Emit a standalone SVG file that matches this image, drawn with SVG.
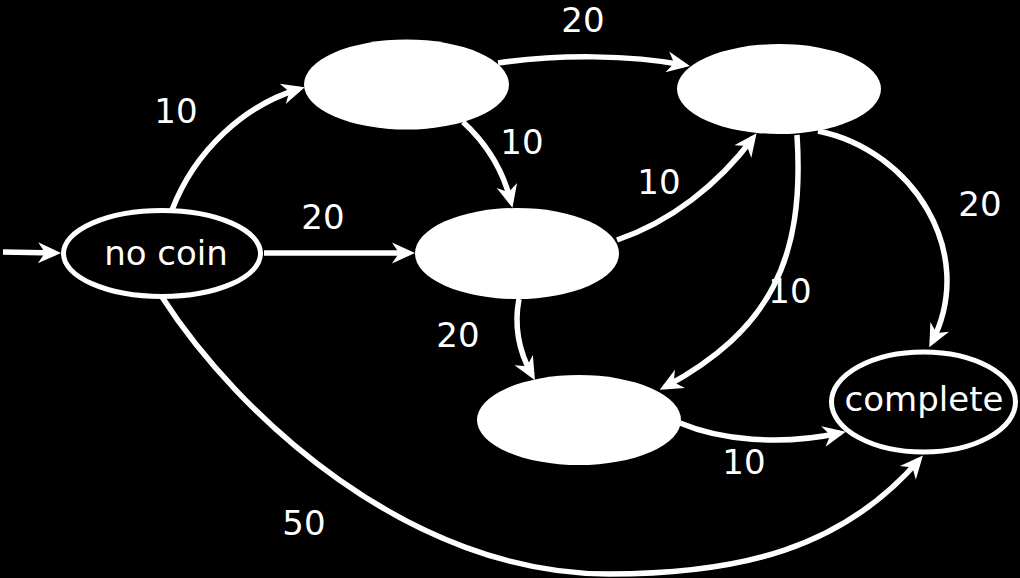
<svg xmlns="http://www.w3.org/2000/svg" width="1020" height="578" viewBox="0 0 1020 578">
<style>
.bg{fill:#000}
.st{fill:#fff;stroke:none}
.ring{fill:#000;stroke:#fff;stroke-width:5}
.e{fill:none;stroke:#fff;stroke-width:5.5;marker-end:url(#ah)}
text{font-family:"DejaVu Sans",sans-serif;font-size:34px;fill:#fff;text-anchor:middle}
</style>
<defs>
<marker id="ah" markerUnits="userSpaceOnUse" markerWidth="40" markerHeight="40" refX="0" refY="0" orient="auto" overflow="visible">
<path d="M6,0 L-17,-10.5 L-10,0 L-17,10.5 Z" fill="#fff"/>
</marker>
</defs>
<rect class="bg" x="0" y="0" width="1020" height="578"/>
<g id="edges">
<path class="e" d="M3,252 L55,253"/>
<path class="e" d="M172,210 C195,150 245,105 299,89"/>
<path class="e" d="M264,253 L409,253"/>
<path class="e" d="M162,297 C238,415 409,574 609,574 C739,574 842,549 919,460"/>
<path class="e" d="M498,63 C560,54 630,55 684,65"/>
<path class="e" d="M463,122 C485,142 503,170 511,202"/>
<path class="e" d="M617,240 C670,222 718,185 753,138"/>
<path class="e" d="M519,299 C514,325 518,350 532,375"/>
<path class="e" d="M797,135 C805,260 770,330 665,387"/>
<path class="e" d="M818,131 C912,150 978,252 932,342"/>
<path class="e" d="M680,423 C720,440 780,446 840,433"/>
<text x="176" y="123">10</text>
<text x="583" y="32">20</text>
<text x="522" y="154">10</text>
<text x="323" y="229">20</text>
<text x="659" y="194">10</text>
<text x="980" y="216">20</text>
<text x="790" y="303">10</text>
<text x="458" y="347">20</text>
<text x="744" y="474">10</text>
<text x="304" y="535">50</text>
</g>
<g id="nocoin">
<ellipse class="ring" cx="162" cy="253.5" rx="98.5" ry="43"/>
<text x="166" y="265">no coin</text>
</g>
<g id="s10">
<ellipse class="st" cx="406.5" cy="84.5" rx="102.5" ry="45"/>
</g>
<g id="s30">
<ellipse class="st" cx="779" cy="89" rx="102" ry="45"/>
</g>
<g id="s20">
<ellipse class="st" cx="517" cy="253.5" rx="102" ry="45.5"/>
</g>
<g id="s40">
<ellipse class="st" cx="579" cy="420" rx="102" ry="45"/>
</g>
<g id="complete">
<ellipse class="ring" cx="923.5" cy="402" rx="92" ry="50"/>
<text x="924" y="411">complete</text>
</g>
</svg>
